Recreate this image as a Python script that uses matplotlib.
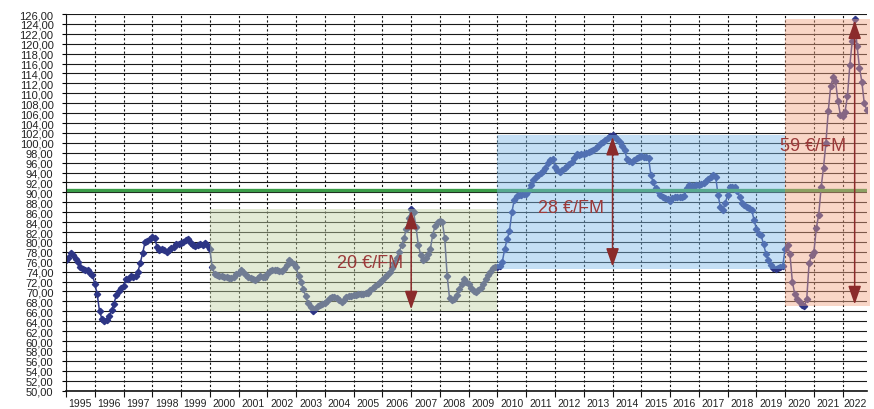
import numpy as np
import matplotlib.pyplot as plt
from matplotlib.patches import Rectangle

# monthly prices, one list per period of the chart
p1995_1999 = [
    76.3, 76.8, 77.8, 77.3, 76.5, 75.9, 75.0, 74.6, 74.3, 74.4, 73.8, 73.4,
    71.6, 69.5, 66.0, 64.5, 64.0, 64.3, 65.0, 66.2, 67.5, 69.3, 70.0, 70.8,
    71.2, 72.5, 72.6, 73.1, 73.0, 73.2, 74.0, 75.8, 77.8, 80.0, 80.2, 80.5,
    81.0, 80.7, 79.0, 78.3, 78.5, 78.3, 78.0, 78.3, 78.8, 79.0, 79.5, 79.6,
    79.8, 80.0, 80.3, 80.5, 79.8, 79.3, 79.2, 79.3, 79.6, 79.4, 79.8, 79.3,
]
p2000_2009 = [
    78.6, 74.9, 73.6, 73.4, 73.2, 73.1, 73.0, 72.9, 72.8, 72.7, 73.0, 73.5,
    73.8, 74.4, 74.0, 73.4, 73.0, 72.7, 72.5, 72.4, 72.7, 73.1, 73.0, 72.9,
    73.6, 74.2, 74.3, 74.4, 74.3, 74.2, 74.2, 74.5, 75.4, 76.3, 76.0, 75.5,
    74.9, 73.2, 72.0, 70.5, 69.0, 67.6, 66.8, 66.0, 66.5, 67.0, 67.2, 67.5,
    67.6, 68.0, 68.6, 68.9, 68.8, 68.6, 68.2, 67.9, 68.3, 68.8, 69.0, 69.1,
    69.2, 69.3, 69.4, 69.4, 69.5, 69.6, 69.7, 70.2, 70.8, 71.2, 71.6, 72.0,
    72.4, 72.9, 73.4, 74.0, 74.8, 75.8, 76.8, 78.0, 79.3, 80.8, 82.6, 84.8,
    86.6, 86.0, 83.0, 79.3, 77.3, 76.3, 76.8, 77.5, 78.6, 81.5, 83.3, 84.0,
    84.3, 84.0, 80.7, 73.2, 68.6, 68.2, 68.5, 69.2, 70.6, 71.6, 72.6, 72.0,
    71.5, 70.8, 70.1, 69.9, 70.3, 70.7, 71.5, 72.6, 73.3, 74.0, 74.8, 75.0,
]
p2010_2019 = [
    75.0, 75.2, 76.0, 78.5, 80.5, 82.2, 86.0, 88.5, 89.3, 89.4, 89.5, 89.6,
    89.7, 90.4, 91.5, 92.6, 93.1, 93.5, 93.9, 94.3, 95.0, 95.9, 96.6, 96.8,
    95.2, 94.5, 94.2, 94.5, 95.0, 95.3, 95.7, 96.1, 96.9, 97.8, 97.6, 97.7,
    97.8, 97.9, 98.1, 98.3, 98.6, 98.9, 99.4, 99.9, 100.2, 100.6, 101.0, 101.3,
    101.5, 101.2, 100.8, 100.2, 99.3, 98.5, 96.8, 96.3, 96.1, 96.5, 96.9, 97.2,
    97.3, 97.2, 97.2, 97.0, 93.5, 92.0, 90.8, 90.2, 89.5, 89.1, 88.9, 88.6,
    88.3, 88.8, 89.1, 89.0, 89.1, 89.0, 89.3, 90.9, 91.4, 91.3, 91.3, 91.4,
    91.4, 91.6, 91.8, 92.2, 92.8, 93.1, 93.6, 93.2, 89.5, 87.0, 86.5, 87.8,
    89.5, 91.0, 91.1, 91.1, 90.3, 89.0, 87.8, 87.4, 87.1, 86.9, 86.5, 84.5,
    82.6, 81.6, 81.3, 79.5, 77.6, 76.3, 75.4, 74.8, 74.6, 74.8, 74.9, 75.2,
]
p2020_2022 = [
    78.6, 79.3, 77.5, 72.0, 69.5, 68.4, 67.9, 67.2, 67.0, 68.5, 75.8, 77.3,
    78.0, 82.8, 85.5, 91.0, 95.0, 100.0, 106.5, 111.5, 113.2, 112.5, 108.5, 105.7,
    105.5, 106.3, 109.5, 115.8, 120.6, 125.0, 119.5, 115.2, 112.3, 108.0, 106.7,
]

periods = [p1995_1999, p2000_2009, p2010_2019, p2020_2022]
period_starts = [1995, 2000, 2010, 2020]
band_colors = [None, '#c3d3a6', '#7ebae9', '#f2a483']
band_labels = [None, '20 €/FM', '28 €/FM', '59 €/FM']
label_y = [None, 75.9, 87.0, 99.5]
ref_level = 90.4
years = list(range(1995, 2023))

prices = np.concatenate(periods)
t = 1995 + np.arange(len(prices)) / 12
xmax = t[-1]

fig = plt.figure(figsize=(8.74, 4.10), dpi=100)
ax = fig.add_axes([0.0755, 0.0449, 0.9161, 0.9185])

# series and reference level
ax.plot(t, prices, color='#2d3585', lw=1.1, marker='D', ms=3.2, zorder=2)
ax.axhline(ref_level, color='#3a9d48', lw=2.4, zorder=2.5)

# shaded ranges + arrows
for vals, start, col, lab, ly in zip(periods, period_starts, band_colors, band_labels, label_y):
    if col is None:
        continue
    vals = np.array(vals)
    tt = start + np.arange(len(vals)) / 12
    end = start + 10 if start < 2020 else xmax + 0.12
    lo, hi = vals.min(), vals.max()
    ax.add_patch(Rectangle((start, lo), end - start, hi - lo, facecolor=col,
                           edgecolor='none', alpha=0.45, zorder=3, clip_on=False))
    xa = tt[vals.argmax()]
    ax.annotate('', xy=(xa, hi - 0.3), xytext=(xa, lo + 0.4),
                arrowprops=dict(arrowstyle='<|-|>,head_length=0.8,head_width=0.28',
                                mutation_scale=14, color='#8b2b2b', lw=1.1,
                                shrinkA=0, shrinkB=0), zorder=5)
    ax.annotate(lab, xy=(xa, ly), xytext=(-6, 0), textcoords='offset points',
                ha='right', va='center', fontsize=13, color='#9c3a3a',
                family=['Liberation Sans', 'DejaVu Sans'], zorder=6)

ax.set_xlim(1995, xmax)
ax.set_ylim(50, 126)

# grid
ax.set_axisbelow(True)
ax.set_yticks(np.arange(50, 127, 2))
ax.set_yticklabels([f'{v:.2f}'.replace('.', ',') for v in np.arange(50, 127, 2)])
ax.yaxis.grid(True, color='#1a1a1a', lw=0.8)
ax.set_xticks(years)
ax.set_xticklabels([])
ax.xaxis.grid(True, color='#111111', lw=0.8, linestyle=(0, (2, 2)))

centers = [y + 0.5 for y in years[:-1]] + [(years[-1] + xmax) / 2]
ax.set_xticks(centers, minor=True)
ax.set_xticklabels([str(y) for y in years], minor=True)

ax.tick_params(axis='x', which='major', length=4, width=0.8, color='#111111')
ax.tick_params(axis='x', which='minor', length=0, pad=5.5, labelsize=7.5, labelcolor='#222222')
ax.tick_params(axis='y', length=3, width=0.8, pad=6, labelsize=8, labelcolor='#222222')
for lbl in ax.get_xticklabels(minor=True) + ax.get_yticklabels():
    lbl.set_family(['Liberation Sans', 'DejaVu Sans'])

for s in ['top', 'right']:
    ax.spines[s].set_visible(False)
ax.spines['left'].set_color('#111111')
ax.spines['bottom'].set_color('#111111')
ax.spines['bottom'].set_linewidth(1.2)

fig.savefig('out.png', dpi=100)
